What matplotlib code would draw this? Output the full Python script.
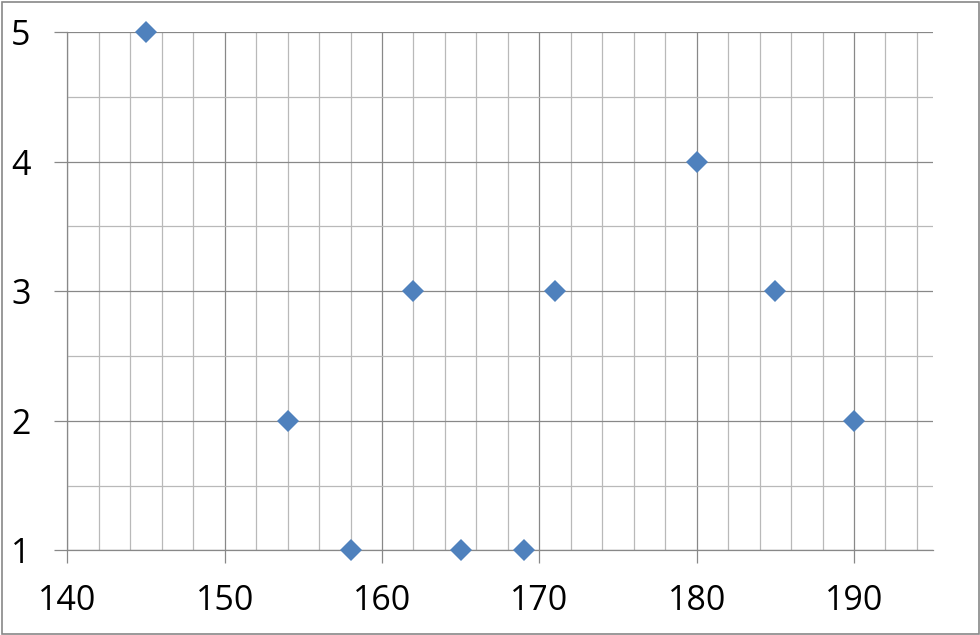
import matplotlib
matplotlib.use("Agg")
import matplotlib.pyplot as plt
from matplotlib.ticker import MultipleLocator
from matplotlib.patches import Rectangle

x_values = [145, 154, 158, 162, 165, 169, 171, 180, 185, 190]
y_values = [5, 2, 1, 3, 1, 1, 3, 4, 3, 2]
x_ticks = [140, 150, 160, 170, 180, 190]
y_ticks = [1, 2, 3, 4, 5]

plt.rcParams['font.family'] = ['Open Sans', 'DejaVu Sans']

W, H = 980, 635
fig = plt.figure(figsize=(W / 100, H / 100), dpi=100)
left, right, top, bottom = 67.3, 932.7, 32.0, 550.3
ax = fig.add_axes([left / W, 1 - bottom / H, (right - left) / W, (bottom - top) / H])

major_c = '#888888'
minor_c = '#b9b9b9'
lw = 0.9

ax.set_xlim(140, 195)
ax.set_ylim(1, 5)
ax.set_xticks(x_ticks)
ax.set_yticks(y_ticks)
ax.xaxis.set_minor_locator(MultipleLocator(2))
ax.yaxis.set_minor_locator(MultipleLocator(0.5))

ax.grid(which='major', axis='x', color=major_c, linewidth=lw)
ax.grid(which='major', axis='y', color=major_c, linewidth=lw)
ax.grid(which='minor', color=minor_c, linewidth=lw)
ax.set_axisbelow(True)

for s in ['top', 'right']:
    ax.spines[s].set_visible(False)
for s in ['left', 'bottom']:
    ax.spines[s].set_color(major_c)
    ax.spines[s].set_linewidth(lw)

ax.tick_params(which='major', direction='out', length=9.4, width=lw, color=major_c,
               labelsize=24.5, labelcolor='black')
ax.tick_params(axis='x', which='major', pad=15)
ax.tick_params(axis='y', which='major', pad=17)
ax.tick_params(which='minor', length=0)

ax.plot(x_values, y_values, linestyle='none', marker='D', markersize=11.5,
        markeredgewidth=0, color='#4F81BD', clip_on=False, zorder=5)

fig.patches.append(Rectangle((1.5 / W, 1.5 / H), (W - 3) / W, (H - 3) / H,
                             transform=fig.transFigure, fill=False,
                             edgecolor='#888888', linewidth=1.2))

fig.savefig('out.png', dpi=100)
